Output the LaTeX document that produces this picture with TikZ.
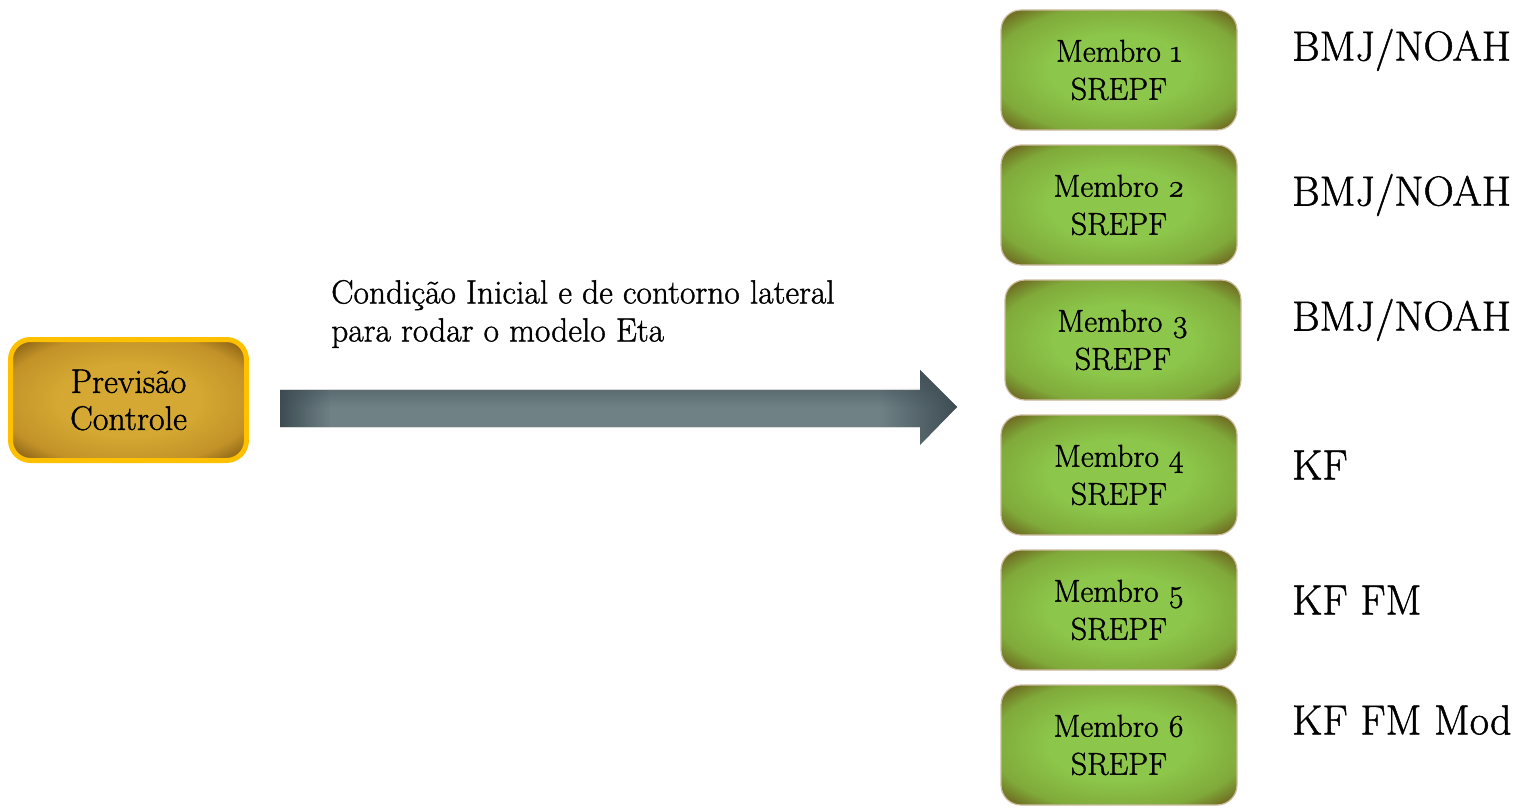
\documentclass[tikz,border=0pt]{standalone}
\usepackage{fontspec}
\setmainfont{Latin Modern Roman}[Numbers=OldStyle, FakeBold=1.2]
\usetikzlibrary{fadings}
\definecolor{gC}{RGB}{140,198,74}
\definecolor{gM}{RGB}{128,170,58}
\definecolor{gE}{RGB}{108,98,30}
\definecolor{oC}{RGB}{212,168,50}
\definecolor{oM}{RGB}{194,146,40}
\definecolor{oE}{RGB}{132,92,18}
\definecolor{oB}{RGB}{255,192,0}
\definecolor{aC}{RGB}{112,129,134}
\definecolor{aE}{RGB}{60,76,82}
\definecolor{gB}{RGB}{205,188,160}
\pgfdeclareradialshading{greenglow}{\pgfpoint{0bp}{0bp}}{color(0bp)=(gC); color(15bp)=(gC); color(27bp)=(gM); color(34bp)=(gE); color(75bp)=(gE)}
\pgfdeclareradialshading{orangeglow}{\pgfpoint{0bp}{0bp}}{color(0bp)=(oC); color(15bp)=(oC); color(27bp)=(oM); color(34bp)=(oE); color(75bp)=(oE)}
\tikzset{
  membox/.style={shading=greenglow, draw=gB, line width=1.2pt, rounded corners=20pt,
    minimum width=236pt, minimum height=120pt, align=center, font=\fontsize{31.5}{38}\selectfont, text=black},
  prevbox/.style={shading=orangeglow, draw=oB, line width=5pt, rounded corners=20pt,
    minimum width=236pt, minimum height=121pt, align=center, font=\fontsize{34}{37}\selectfont, text=black},
  lbl/.style={anchor=west, font=\fontsize{42}{44}\selectfont, inner sep=0pt},
}
\begin{document}
\begin{tikzpicture}[x=1pt,y=-1pt]
\useasboundingbox (0,0) rectangle (1527,808);
% control box
\node[prevbox] (prev) at (128.5,400) {Previsão\\Controle};
% arrow
\coordinate (a0) at (280,408);
\coordinate (tip) at (957,407);
\shade[top color=aE!85!aC, bottom color=aC, middle color=aC]
  (280,389) -- (920,389) -- (920,370) -- (tip) -- (920,445) -- (920,427) -- (280,427) -- cycle;
\fill[aE, path fading=east] (280,389) rectangle (330,427);
\fill[aE, path fading=west] (880,389) -- (920,389) -- (920,370) -- (tip) -- (920,445) -- (920,427) -- (880,427) -- cycle;
\draw[white!85!black, line width=0.6pt] (280,389) -- (920,389) (280,427) -- (920,427);
% arrow label
\node[anchor=west, align=left, inner sep=0pt, font=\fontsize{33.5}{38}\selectfont] (cond) at (331,314)
  {Condição Inicial e de contorno lateral\\para rodar o modelo Eta};
% member boxes
\node[membox] (m1) at (1119,70) {Membro 1\\SREPF};
\node[membox] (m2) at (1119,205) {Membro 2\\SREPF};
\node[membox] (m3) at (1123,340) {Membro 3\\SREPF};
\node[membox] (m4) at (1119,475) {Membro 4\\SREPF};
\node[membox] (m5) at (1119,610) {Membro 5\\SREPF};
\node[membox] (m6) at (1119,745) {Membro 6\\SREPF};
% labels
\node[lbl] (l1) at (1292,50) {BMJ/NOAH};
\node[lbl] (l2) at (1292,195) {BMJ/NOAH};
\node[lbl] (l3) at (1292,320) {BMJ/NOAH};
\node[lbl] (l4) at (1292,465) {KF};
\node[lbl] (l5) at (1292,600) {KF FM};
\node[lbl] (l6) at (1292,720) {KF FM Mod};
\end{tikzpicture}
\end{document}
